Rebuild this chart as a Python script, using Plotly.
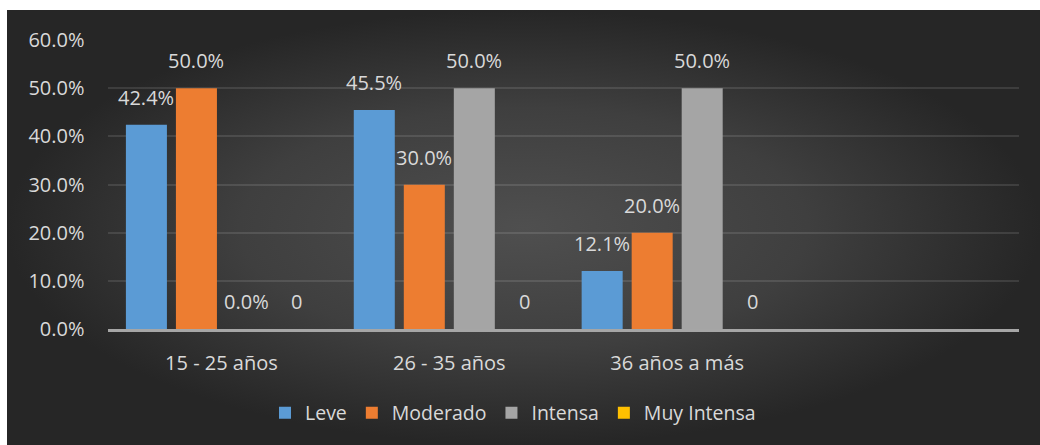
import plotly.graph_objects as go

# ---- data ----
categories = ["15 - 25 años", "26 - 35 años", "36 años a más", " "]
series_names = ["Leve", "Moderado", "Intensa", "Muy Intensa"]
leve = [0.424, 0.455, 0.121, None]
moderado = [0.50, 0.30, 0.20, None]
intensa = [0.0, 0.50, 0.50, None]
muy_intensa = [0, 0, 0, None]
y_ticks = [0, 0.1, 0.2, 0.3, 0.4, 0.5, 0.6]
label_is_percent = [True, True, True, False]

# ---- styles ----
colors = ["#5b9bd5", "#ed7d31", "#a5a5a5", "#ffc000"]
text_color = "#d9d9d9"
FONT = "Open Sans"
FS = 20
W, H = 1040, 445
X0, X1 = 107.5, 1019          # plot area, px
BARGAP, GROUPGAP = 0.122, 0.18

fig = go.Figure()

# background gradient panel (drawn on a hidden full-size subplot)
fig.add_trace(go.Scatter(
    x=[0, 1, 1, 0, 0], y=[0, 0, 1, 1, 0],
    xaxis="x", yaxis="y",
    mode="lines", line=dict(width=0, color="rgba(0,0,0,0)"),
    fill="toself",
    fillgradient=dict(type="radial",
                      colorscale=[[0, "#4f4f4f"], [0.55, "#3f3f3f"], [1, "#262626"]]),
    showlegend=False, hoverinfo="skip",
))

all_series = [leve, moderado, intensa, muy_intensa]
for name, vals, col in zip(series_names, all_series, colors):
    fig.add_trace(go.Bar(
        name=name, x=categories, y=vals,
        xaxis="x2", yaxis="y2",
        marker=dict(color=col, line=dict(width=0)),
    ))

# data labels (offset horizontally to each bar of the group)
n = len(all_series)
cat_px = (X1 - X0) / len(categories)
slot_px = cat_px * (1 - BARGAP) / n
annotations = []
for i, (vals, pct) in enumerate(zip(all_series, label_is_percent)):
    for cat, v in zip(categories, vals):
        if v is None:
            continue
        txt = f"{v * 100:.1f}%" if pct else f"{v:g}"
        annotations.append(dict(
            x=cat, y=v, xref="x2", yref="y2", text=txt, showarrow=False,
            xanchor="center", yanchor="bottom",
            xshift=(i - (n - 1) / 2) * slot_px, yshift=12,
            font=dict(family=FONT, size=FS, color=text_color),
        ))

fig.update_layout(
    width=W, height=H,
    margin=dict(l=0, r=0, t=0, b=0, autoexpand=False),
    paper_bgcolor="white",
    plot_bgcolor="rgba(0,0,0,0)",
    barmode="group", bargap=BARGAP, bargroupgap=GROUPGAP,
    font=dict(family=FONT, size=FS, color=text_color),
    annotations=annotations,
    legend=dict(orientation="h", x=513 / W, xanchor="center",
                y=(H - 413) / H, yanchor="middle",
                font=dict(family=FONT, size=19.5, color=text_color),
                bgcolor="rgba(0,0,0,0)", traceorder="normal"),
    xaxis=dict(domain=[7 / W, 1], range=[0, 1], visible=False, fixedrange=True),
    yaxis=dict(domain=[0, (H - 10) / H], range=[0, 1], visible=False, fixedrange=True),
    xaxis2=dict(domain=[X0 / W, X1 / W], anchor="y2", type="category",
                categoryorder="array", categoryarray=categories, range=[-0.5, 3.5],
                showline=True, linecolor="#a6a6a6", linewidth=2.5,
                showgrid=False, ticks="", ticklabelstandoff=14,
                tickfont=dict(family=FONT, size=FS, color=text_color)),
    yaxis2=dict(domain=[(H - 329.3) / H, (H - 40) / H], anchor="x2",
                range=[0, 0.6], tickvals=y_ticks, tickformat=".1%",
                showgrid=True, gridcolor="rgba(255,255,255,0.11)", gridwidth=1.5,
                zeroline=False, showline=False, ticks="", ticklabelstandoff=22,
                tickfont=dict(family=FONT, size=FS, color=text_color)),
)

fig.write_html("out.html")
